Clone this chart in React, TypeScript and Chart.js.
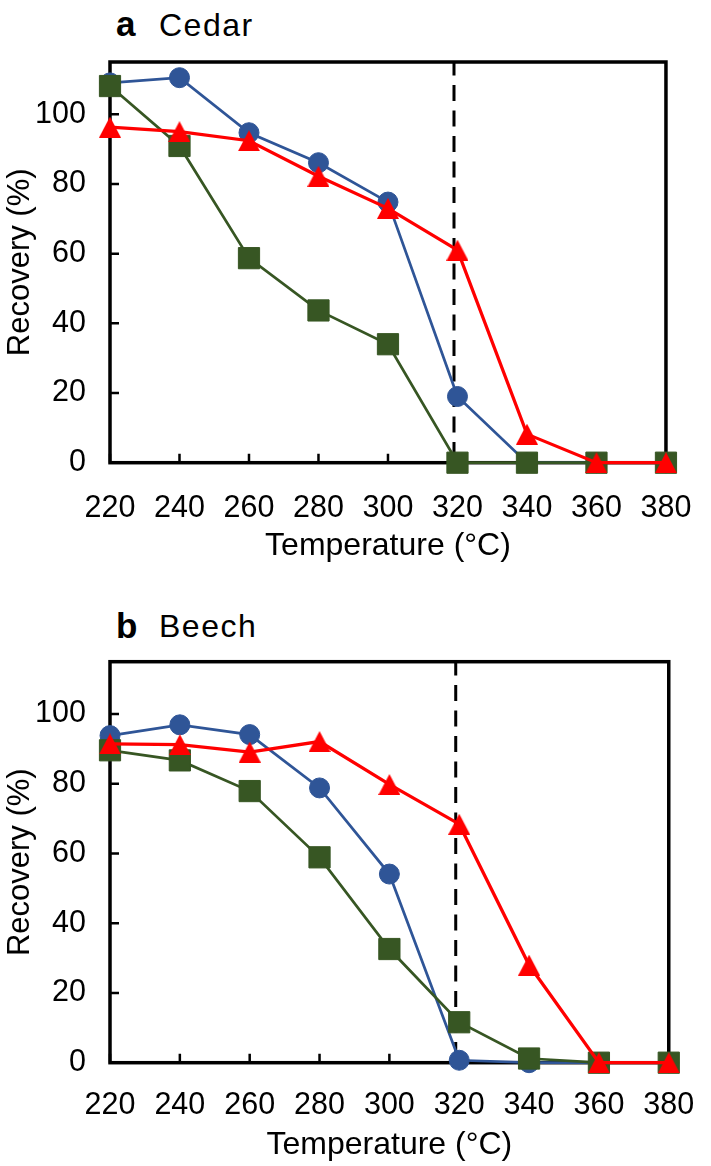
import React, { useEffect, useRef } from 'react';
import { Chart, registerables } from 'chart.js';

Chart.register(...registerables);

// ---- data ----
const temperatures = [220, 240, 260, 280, 300, 320, 340, 360, 380];
const yTickValues = [0, 20, 40, 60, 80, 100];
const xLabel = 'Temperature (°C)';
const yLabel = 'Recovery (%)';

const cedarCircle = [109.0, 110.5, 94.7, 86.1, 74.8, 19.0, 0, 0, 0];
const cedarSquare = [108.1, 90.9, 58.7, 43.7, 34.0, 0, 0, 0, 0];
const cedarTriangle = [96.3, 95.0, 92.4, 82.2, 73.0, 61.0, 8.2, 0, 0];

const beechCircle = [93.8, 96.9, 94.1, 78.8, 54.1, 0.7, 0, 0, 0];
const beechSquare = [89.6, 86.7, 77.9, 58.9, 32.6, 11.6, 1.2, 0, 0];
const beechTriangle = [91.4, 91.2, 89.1, 92.1, 79.8, 68.4, 28.0, 0, 0];

const thresholdTemp = 319;
const yMax = 115;

// ---- styles ----
const FONT = 'Arial, "Liberation Sans", sans-serif';
const BLUE = '#2F5597';
const GREEN = '#375623';
const RED = '#FF0000';
const W = 711;
const H = 583;

function makeTriangle(w: number, h: number, color: string) {
  const c = document.createElement('canvas');
  c.width = w;
  c.height = h;
  const g = c.getContext('2d')!;
  g.fillStyle = color;
  g.beginPath();
  g.moveTo(w / 2, 0);
  g.lineTo(w, h);
  g.lineTo(0, h);
  g.closePath();
  g.fill();
  return c;
}

const framePlugin = {
  id: 'frameTicks',
  beforeDatasetsDraw(chart: any) {
    const { ctx, chartArea: a, scales } = chart;
    ctx.save();
    ctx.strokeStyle = '#000';
    ctx.lineWidth = 2.5;
    ctx.beginPath();
    for (const t of scales.x.ticks) {
      const px = scales.x.getPixelForValue(t.value);
      ctx.moveTo(px, a.bottom);
      ctx.lineTo(px, a.bottom - 9);
    }
    for (const t of scales.y.ticks) {
      const py = scales.y.getPixelForValue(t.value);
      ctx.moveTo(a.left, py);
      ctx.lineTo(a.left + 9, py);
    }
    ctx.stroke();
    ctx.lineWidth = 3.5;
    ctx.strokeRect(a.left, a.top, a.right - a.left, a.bottom - a.top);
    ctx.restore();
  },
};

type PanelProps = {
  top: number;
  areaTop: number;
  areaBottom: number;
  tickPad: number;
  xTitlePad: number;
  circle: number[];
  square: number[];
  triangle: number[];
};

function Panel(p: PanelProps) {
  const ref = useRef<HTMLCanvasElement | null>(null);
  useEffect(() => {
    if (!ref.current) return;
    const tri = makeTriangle(22, 21, RED);
    const pts = (vals: number[]) => temperatures.map((t, i) => ({ x: t, y: vals[i] }));
    const chart = new Chart(ref.current, {
      type: 'line',
      data: {
        datasets: [
          {
            data: [
              { x: thresholdTemp, y: 0 },
              { x: thresholdTemp, y: yMax },
            ],
            borderColor: '#000',
            borderWidth: 3,
            borderDash: [16, 9.5],
            borderDashOffset: 20.8,
            pointRadius: 0,
            order: 4,
            clip: false,
          } as any,
          {
            data: pts(p.circle),
            borderColor: BLUE,
            backgroundColor: BLUE,
            borderWidth: 2.75,
            pointStyle: 'circle',
            pointRadius: 10,
            pointBorderWidth: 1,
            pointBackgroundColor: BLUE,
            pointBorderColor: BLUE,
            order: 3,
            clip: false,
          },
          {
            data: pts(p.square),
            borderColor: GREEN,
            backgroundColor: GREEN,
            borderWidth: 2.75,
            pointStyle: 'rect',
            pointRadius: 15,
            pointBorderWidth: 1,
            pointBackgroundColor: GREEN,
            pointBorderColor: GREEN,
            order: 2,
            clip: false,
          },
          {
            data: pts(p.triangle),
            borderColor: RED,
            backgroundColor: RED,
            borderWidth: 3.25,
            pointStyle: tri as any,
            pointRadius: 11,
            order: 1,
            clip: false,
          },
        ],
      },
      options: {
        responsive: false,
        animation: false,
        devicePixelRatio: 1,
        events: [],
        layout: { padding: { top: p.areaTop, right: W - 683, left: 0, bottom: 0 } },
        plugins: { legend: { display: false }, tooltip: { enabled: false } },
        scales: {
          x: {
            type: 'linear',
            min: temperatures[0],
            max: temperatures[temperatures.length - 1],
            afterBuildTicks: (s: any) => {
              s.ticks = temperatures.map((v) => ({ value: v }));
            },
            afterFit: (s: any) => {
              s.height = H - p.areaBottom;
            },
            ticks: {
              font: { family: FONT, size: 30.5 },
              color: '#000',
              padding: p.tickPad,
              maxRotation: 0,
              autoSkip: false,
            },
            grid: { display: false },
            border: { display: false },
            title: {
              display: true,
              text: xLabel,
              font: { family: FONT, size: 32 },
              color: '#000',
              padding: { top: 0, bottom: p.xTitlePad },
            },
          },
          y: {
            type: 'linear',
            min: 0,
            max: yMax,
            afterBuildTicks: (s: any) => {
              s.ticks = yTickValues.map((v) => ({ value: v }));
            },
            afterFit: (s: any) => {
              s.width = 110;
            },
            ticks: {
              font: { family: FONT, size: 30.5 },
              color: '#000',
              padding: 16,
            },
            grid: { display: false },
            border: { display: false },
            title: {
              display: true,
              text: yLabel,
              font: { family: FONT, size: 31 },
              color: '#000',
              padding: { top: 1.4, bottom: 0 },
            },
          },
        },
      } as any,
      plugins: [framePlugin],
    });
    return () => chart.destroy();
  }, []);
  return (
    <canvas
      ref={ref}
      width={W}
      height={H}
      style={{ position: 'absolute', left: 0, top: p.top, width: W, height: H }}
    />
  );
}

function PanelTitle({ letter, name, baseline }: { letter: string; name: string; baseline: number }) {
  const common: React.CSSProperties = {
    position: 'absolute',
    fontFamily: FONT,
    color: '#000',
    whiteSpace: 'nowrap',
  };
  // baseline offset for Arial metrics with line-height equal to font size
  const off = (s: number) => s * (0.905 - (1.117 - 1) / 2);
  return (
    <>
      <span
        style={{
          ...common,
          left: 116,
          top: baseline - off(35),
          fontSize: 35,
          lineHeight: '35px',
          fontWeight: 'bold',
        }}
      >
        {letter}
      </span>
      <span
        style={{
          ...common,
          left: 159,
          top: baseline - off(32),
          fontSize: 32,
          lineHeight: '32px',
          letterSpacing: 1.5,
        }}
      >
        {name}
      </span>
    </>
  );
}

export default function App() {
  return (
    <div
      style={{
        position: 'absolute',
        left: 0,
        top: 0,
        width: W,
        height: 1166,
        background: '#fff',
        overflow: 'hidden',
      }}
    >
      <PanelTitle letter="a" name="Cedar" baseline={36} />
      <Panel
        top={0}
        areaTop={62}
        areaBottom={462.7}
        tickPad={19.6}
        xTitlePad={17.4}
        circle={cedarCircle}
        square={cedarSquare}
        triangle={cedarTriangle}
      />
      <PanelTitle letter="b" name="Beech" baseline={637.3} />
      <Panel
        top={583}
        areaTop={78.7}
        areaBottom={479.7}
        tickPad={16.8}
        xTitlePad={1.4}
        circle={beechCircle}
        square={beechSquare}
        triangle={beechTriangle}
      />
    </div>
  );
}
